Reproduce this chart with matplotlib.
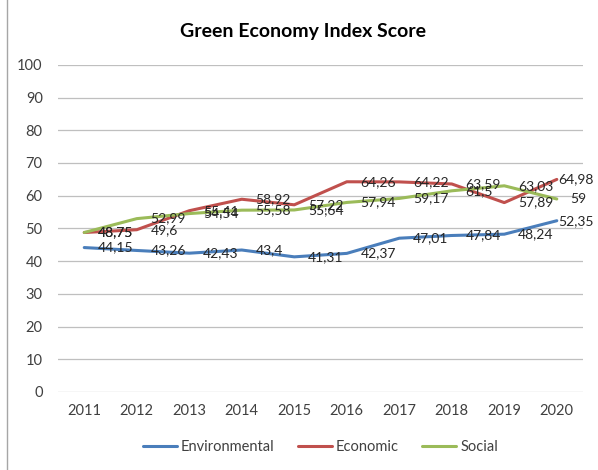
import matplotlib
matplotlib.use('Agg')
import matplotlib.pyplot as plt
from matplotlib.lines import Line2D
import numpy as np

years = ['2011', '2012', '2013', '2014', '2015', '2016', '2017', '2018', '2019', '2020']
environmental = [44.15, 43.26, 42.43, 43.4, 41.31, 42.37, 47.01, 47.84, 48.24, 52.35]
economic = [48.75, 49.6, 55.41, 58.92, 57.22, 64.26, 64.22, 63.59, 57.89, 64.98]
social = [48.75, 52.99, 54.54, 55.58, 55.64, 57.94, 59.17, 61.5, 63.03, 59]

names = ['Environmental', 'Economic', 'Social']
colors = ['#4a7ebb', '#c0504d', '#9bbb59']

plt.rcParams['font.family'] = ['Lato', 'DejaVu Sans']

def fmt(v):
    s = ('%.2f' % v).rstrip('0').rstrip('.')
    return s.replace('.', ',')

def main():
    fig = plt.figure(figsize=(5.98, 4.7), dpi=100)
    ax = fig.add_axes([0.097, 0.166, 0.878, 0.696])
    x = np.arange(len(years))

    for series, name, c in zip([environmental, economic, social], names, colors):
        ax.plot(x, series, color=c, lw=2.2, label=name, solid_capstyle='round')

    # data labels right of each point, pulled in at the right edge like excel does
    for series in [environmental, economic, social]:
        for xi, v in zip(x, series):
            lab = fmt(v)
            off = 10
            if xi == len(years) - 1 and len(lab) > 3:
                off = 1
            ax.annotate(lab, (xi, v), xytext=(off, 0), textcoords='offset points',
                        ha='left', va='center', fontsize=10, color='#262626')

    ax.set_xlim(-0.5, len(years) - 0.5)
    ax.set_ylim(0, 100)
    ax.set_yticks(range(0, 101, 10))
    ax.set_xticks(x)
    ax.set_xticklabels(years)
    ax.grid(axis='y', color='#bfbfbf', lw=0.9)
    ax.set_axisbelow(True)
    for s in ax.spines.values():
        s.set_visible(False)
    ax.tick_params(length=0, labelsize=10.5, colors='#404040')
    ax.tick_params(axis='y', pad=11)
    ax.tick_params(axis='x', pad=9)

    fig.text(0.507, 0.934, 'Green Economy Index Score', ha='center', va='center',
             fontsize=14, fontweight='bold', color='#000000')

    ax.legend(loc='center', bbox_to_anchor=(0.5, -0.168), ncol=3, frameon=False,
              fontsize=10.5, handlelength=2.3, handletextpad=0.3, columnspacing=1.6,
              labelcolor='#404040')

    # left edge of chart border
    fig.add_artist(Line2D([7 / 598, 7 / 598], [0, 1], color='#a6a6a6', lw=1,
                          transform=fig.transFigure))

    fig.savefig('out.png', dpi=100)


if __name__ == "__main__": main()
